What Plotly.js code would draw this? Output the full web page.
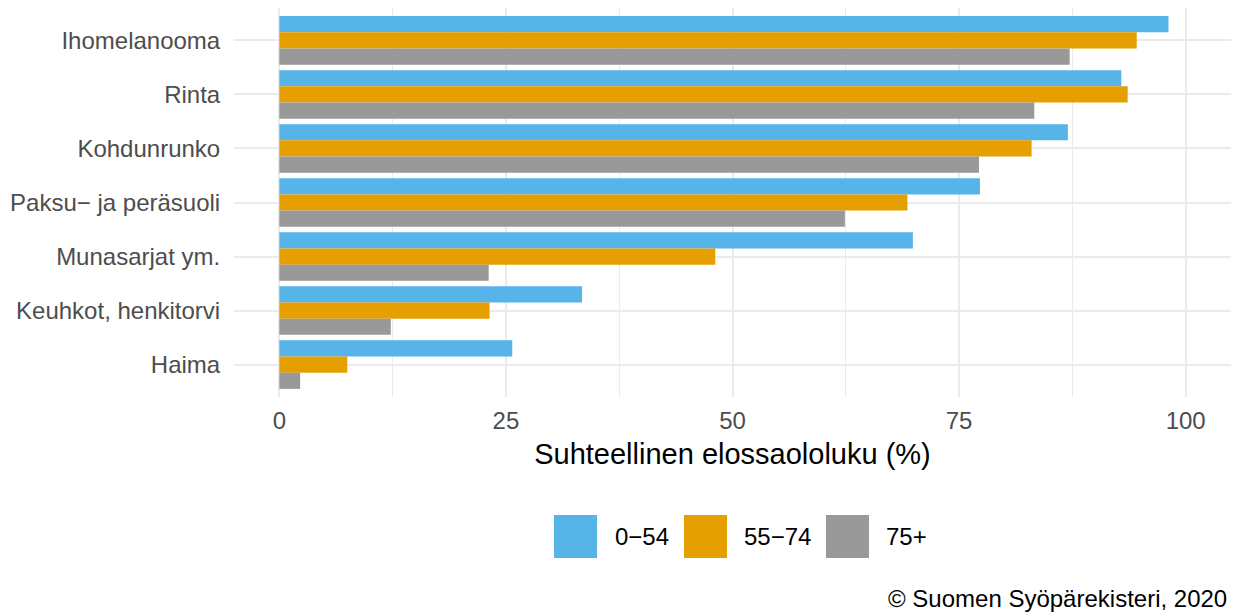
<!DOCTYPE html>
<html>
<head>
<meta charset="utf-8">
<script src="https://cdn.plot.ly/plotly-3.0.1.min.js"></script>
<style>
html,body{margin:0;padding:0;background:#fff;}
#chart{width:1233px;height:613px;}
</style>
</head>
<body>
<div id="chart"></div>
<script>
// Data
var categories = ["Ihomelanooma", "Rinta", "Kohdunrunko", "Paksu\u2212 ja peräsuoli", "Munasarjat ym.", "Keuhkot, henkitorvi", "Haima"];
var seriesNames = ["0\u221254", "55\u221274", "75+"];
var age0_54 = [98.1, 92.9, 87.0, 77.3, 69.9, 33.4, 25.7];
var age55_74 = [94.6, 93.6, 83.0, 69.3, 48.1, 23.2, 7.5];
var age75plus = [87.2, 83.3, 77.2, 62.4, 23.1, 12.3, 2.3];
var colors = ["#56B4E9", "#E69F00", "#999999"];
var xTicks = [0, 25, 50, 75, 100];
var xTitle = "Suhteellinen elossaololuku (%)";
var caption = "\u00A9 Suomen Syöpärekisteri, 2020";

var seriesValues = [age0_54, age55_74, age75plus];
var FONT = "Liberation Sans, Arial, sans-serif";

var traces = seriesValues.map(function (vals, i) {
  return {
    type: "bar",
    orientation: "h",
    name: seriesNames[i],
    x: vals,
    y: categories,
    marker: {color: colors[i], line: {width: 0}},
    showlegend: false,
    hoverinfo: "x+y+name"
  };
});

// plot-area geometry (pixels)
var W = 1233, H = 613;
var L = 234, R = 2, T = 8, B = 216;
var pw = W - L - R, ph = H - T - B;
function px2paperX(px) { return (px - L) / pw; }
function px2paperY(py) { return (H - B - py) / ph; }

// custom legend (squares + labels)
var legendSquares = [554, 684, 826];
var legendTextX = [613, 742, 884];
var sqTop = 515, sqBot = 558;
var shapes = [], annotations = [];
seriesNames.forEach(function (nm, i) {
  shapes.push({
    type: "rect", xref: "paper", yref: "paper",
    x0: px2paperX(legendSquares[i]), x1: px2paperX(legendSquares[i] + 43),
    y0: px2paperY(sqBot), y1: px2paperY(sqTop),
    fillcolor: colors[i], line: {width: 0}
  });
  annotations.push({
    xref: "paper", yref: "paper",
    x: px2paperX(legendTextX[i]), y: px2paperY((sqTop + sqBot) / 2),
    xanchor: "left", yanchor: "middle", showarrow: false,
    text: nm, font: {family: FONT, size: 24, color: "#000000"}
  });
});
annotations.push({
  xref: "paper", yref: "paper",
  x: px2paperX(1229), y: px2paperY(598),
  xanchor: "right", yanchor: "middle", showarrow: false,
  text: caption, font: {family: FONT, size: 24, color: "#000000"}
});

var layout = {
  width: W, height: H,
  margin: {l: L, r: R, t: T, b: B, pad: 0},
  paper_bgcolor: "#ffffff",
  plot_bgcolor: "#ffffff",
  barmode: "group",
  bargap: 0.1,
  bargroupgap: 0,
  showlegend: false,
  font: {family: FONT},
  xaxis: {
    range: [-5, 105],
    tickvals: xTicks,
    ticktext: xTicks.map(String),
    showgrid: true, gridcolor: "#ebebeb", gridwidth: 2,
    zeroline: false, showline: false,
    ticks: "outside", ticklen: 2, tickcolor: "rgba(0,0,0,0)",
    tickfont: {family: FONT, size: 24, color: "#4d4d4d"},
    minor: {tickvals: [12.5, 37.5, 62.5, 87.5], showgrid: true, gridcolor: "#ebebeb", gridwidth: 1, ticks: ""},
    title: {text: xTitle, font: {family: FONT, size: 29, color: "#000000"}, standoff: 10},
    fixedrange: true
  },
  yaxis: {
    type: "category",
    categoryorder: "array",
    categoryarray: categories,
    range: [categories.length - 0.4, -0.6],
    showgrid: true, gridcolor: "#ebebeb", gridwidth: 2,
    zeroline: false, showline: false,
    ticks: "outside", ticklen: 8, tickcolor: "rgba(0,0,0,0)",
    tickfont: {family: FONT, size: 24, color: "#4d4d4d"},
    fixedrange: true
  },
  shapes: shapes,
  annotations: annotations
};

Plotly.newPlot("chart", traces, layout, {displayModeBar: false, staticPlot: true});
</script>
</body>
</html>
